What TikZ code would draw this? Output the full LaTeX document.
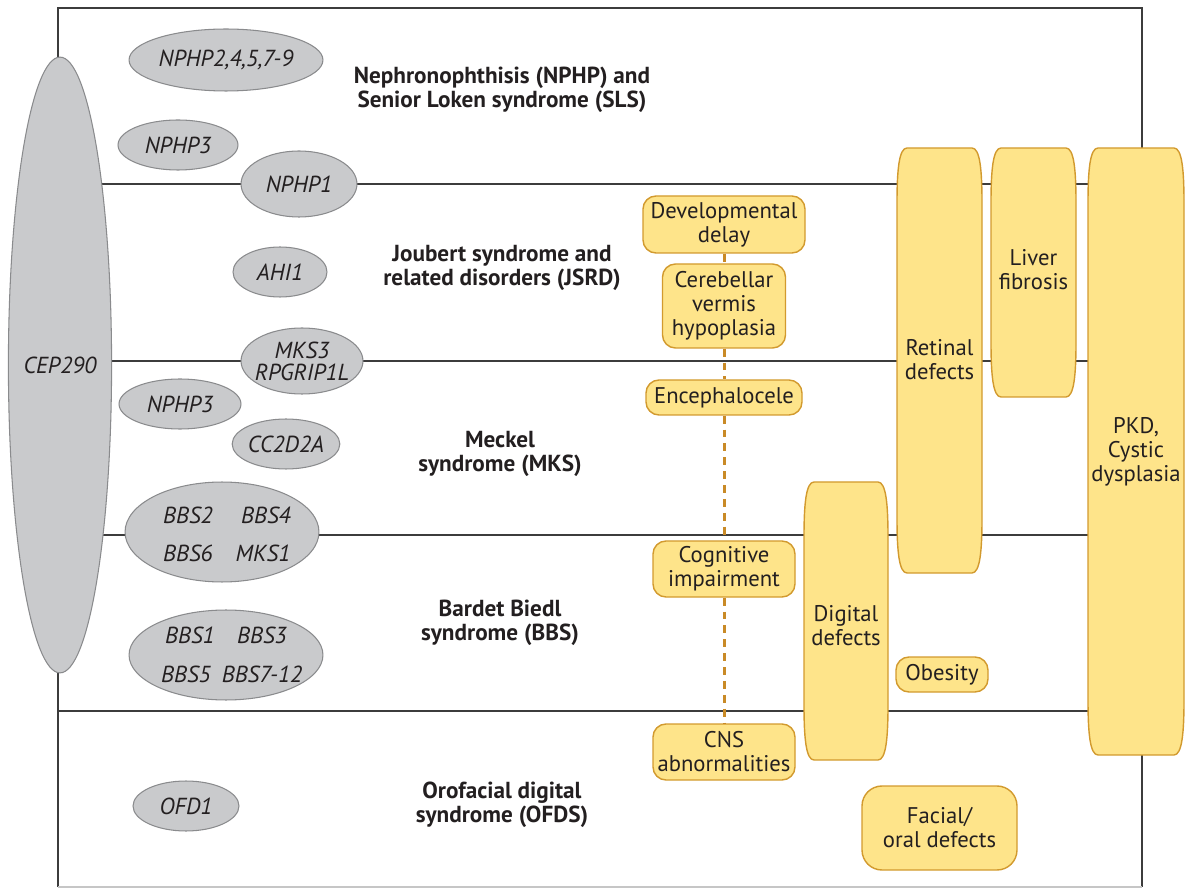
\documentclass[tikz,border=0pt]{standalone}
\usepackage{fontspec}
\setmainfont{PT Sans}
\usetikzlibrary{shapes.geometric}
\definecolor{gfill}{HTML}{C9CACC}
\definecolor{gline}{HTML}{8A8B8D}
\definecolor{yfill}{HTML}{FEE48A}
\definecolor{yline}{HTML}{D29A2E}
\definecolor{dashc}{HTML}{C98A26}
\definecolor{ink}{HTML}{231F20}
\definecolor{framec}{HTML}{3C3C3C}
\newcommand\genefont{\fontsize{13.2}{13.6}\selectfont\itshape}
\newcommand\boxfont{\fontsize{12.9}{13.6}\selectfont}
\newcommand\titlefont{\fontsize{13.2}{13.6}\selectfont\bfseries}
% barrel-shaped box: left, top, right, bottom
\newcommand\barrelbox[4]{%
  \filldraw[ybarrel] ({#1+10},#2) -- ({#3-10},#2)
    .. controls ({#3-2},#2) and (#3,{#2+22}) .. (#3,{#2+55})
    -- (#3,{#4-55})
    .. controls (#3,{#4-22}) and ({#3-2},#4) .. ({#3-10},#4)
    -- ({#1+10},#4)
    .. controls ({#1+2},#4) and (#1,{#4-22}) .. (#1,{#4-55})
    -- (#1,{#2+55})
    .. controls (#1,{#2+22}) and ({#1+2},#2) .. cycle;}
\begin{document}
\begin{tikzpicture}[x=0.02cm,y=-0.02cm,
  frameline/.style={draw=framec,line width=0.85pt},
  gene/.style 2 args={ellipse,draw=gline,fill=gfill,line width=0.6pt,
    minimum width={#1*0.04cm},minimum height={#2*0.04cm},inner sep=0pt,
    font=\genefont,text=ink,align=center},
  genetext/.style={font=\genefont,text=ink,inner sep=0pt},
  ybox/.style 2 args={rectangle,rounded corners=0.26cm,draw=yline,fill=yfill,
    line width=0.8pt,minimum width={#1*0.02cm},minimum height={#2*0.02cm},
    inner sep=0pt,align=center,font=\boxfont,text=ink},
  ybarrel/.style={draw=yline,fill=yfill,line width=0.8pt},
  btext/.style={font=\boxfont,text=ink,align=center,inner sep=0pt},
  title/.style={font=\titlefont,text=ink,align=center,inner sep=0pt},
  dashline/.style={draw=dashc,line width=1.7pt,dash pattern=on 4.5pt off 3.4pt}]
\useasboundingbox (0,0) rectangle (1194,888);

% frame
\draw[frameline] (58,887) -- (58,8) -- (1142,8) -- (1142,887);
\draw[gray!45,line width=0.6pt] (58,887) -- (1142,887);
% section lines
\foreach \yy in {184,361,535,711}
  \draw[frameline] (58,\yy) -- (1142,\yy);

% yellow boxes (phenotypes)
\node[ybox={162}{57}] (dev) at (724,224.5) {Developmental\\delay};
\node[ybox={123}{84}] (cer) at (724,306) {Cerebellar\\vermis\\hypoplasia};
\node[ybox={156}{35}] (enc) at (724,397.5) {Encephalocele};
\node[ybox={142}{56}] (cog) at (724,569) {Cognitive\\impairment};
\node[ybox={142}{56}] (cns) at (724,752) {CNS\\abnormalities};
\node[ybox={92}{35}] (obe) at (942,674.5) {Obesity};
\node[ybox={155}{84},rounded corners=0.4cm] (fac) at (939.5,828) {Facial/\\oral defects};

\draw[dashline] (dev.south) -- (cer.north);
\draw[dashline] (cer.south) -- (enc.north);
\draw[dashline] (enc.south) -- (cog.north);
\draw[dashline] (cog.south) -- (cns.north);

\barrelbox{897}{148}{982}{573}
\node[btext] (ret) at (939.5,360) {Retinal\\defects};
\barrelbox{991}{148}{1076}{397}
\node[btext] (liv) at (1033.5,270) {Liver\\fibrosis};
\barrelbox{1088}{148}{1184}{755}
\node[btext] (pkd) at (1136,452) {PKD,\\Cystic\\dysplasia};
\barrelbox{804}{482}{888}{760}
\node[btext] (dig) at (846,626) {Digital\\defects};

% gene ellipses
\node[gene={48}{308}] (cep) at (60,365) {CEP290};
\node[gene={97}{31}] (n2) at (226,60) {NPHP2,4,5,7-9};
\node[gene={60}{25}] (n3a) at (178,145) {NPHP3};
\node[gene={58}{33}] (n1) at (299,184) {NPHP1};
\node[gene={47}{25}] (ahi) at (280,272) {AHI1};
\node[gene={61}{33},inner sep=-4pt] (mks3) at (302,361) {MKS3\\[-1pt]RPGRIP1L};
\node[gene={61}{25}] (n3b) at (180,404) {NPHP3};
\node[gene={50}{25}] (cc2) at (286,444) {CC2D2A};
\node[gene={97}{50}] (bbsA) at (222,532) {};
\node[genetext] (bbs2) at (188,515) {BBS2};
\node[genetext] (bbs4) at (266,515) {BBS4};
\node[genetext] (bbs6) at (188,553) {BBS6};
\node[genetext] (mks1) at (263,553) {MKS1};
\node[gene={97}{45}] (bbsB) at (226,655) {};
\node[genetext] (bbs1) at (190,635) {BBS1};
\node[genetext] (bbs3) at (262,635) {BBS3};
\node[genetext] (bbs5) at (186,674) {BBS5};
\node[genetext] (bbs7) at (262,674) {BBS7-12};
\node[gene={53}{25}] (ofd) at (186,806) {OFD1};

% disease titles
\node[title] (tNPHP) at (502,90) {Nephronophthisis (NPHP) and\\Senior Loken syndrome (SLS)};
\node[title] (tJSRD) at (502,268) {Joubert syndrome and\\related disorders (JSRD)};
\node[title] (tMKS) at (500,454) {Meckel\\syndrome (MKS)};
\node[title] (tBBS) at (500,623) {Bardet Biedl\\syndrome (BBS)};
\node[title] (tOFDS) at (502,805) {Orofacial digital\\syndrome (OFDS)};
\end{tikzpicture}
\end{document}
